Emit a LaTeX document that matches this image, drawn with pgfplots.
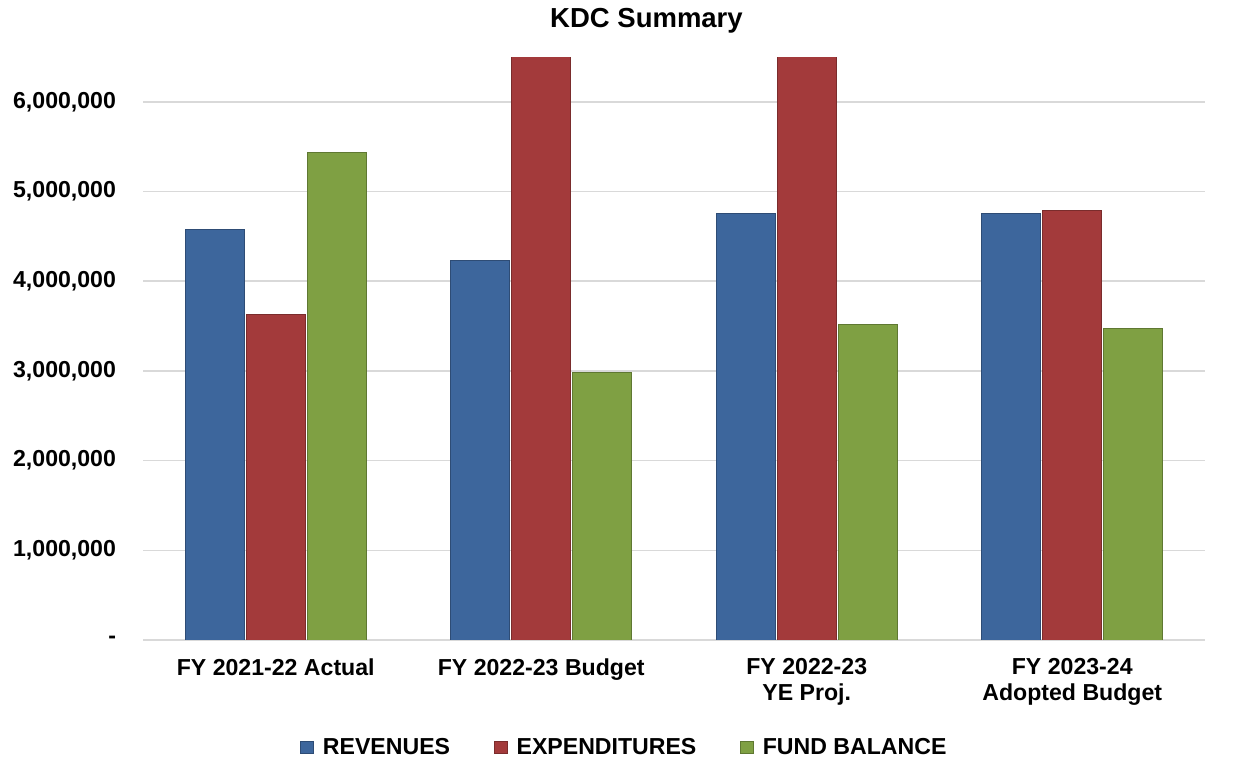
\documentclass[border=0pt]{standalone}
\usepackage{fontspec}
\setmainfont{Liberation Sans}
\usepackage{pgfplots}
\pgfplotsset{compat=1.18}
\definecolor{rev}{HTML}{3D669C}
\definecolor{exp}{HTML}{A33A3B}
\definecolor{fund}{HTML}{7FA043}
\begin{document}
\begin{tikzpicture}
\useasboundingbox (0bp,0bp) rectangle (616.5bp,380.5bp);
\node[font=\bfseries\fontsize{13.8}{16}\selectfont, anchor=base, inner sep=0pt] at (323.25bp,366.5bp) {KDC Summary};
\begin{axis}[
  at={(71.5bp,60.5bp)}, anchor=south west,
  scale only axis, width=531bp, height=291.5bp,
  xmin=-0.5, xmax=3.5, ymin=0, ymax=6500000,
  ybar=1bp, bar width=29.5bp,
  xtick={0,1,2,3},
  xticklabels={{FY 2021-22 Actual},{FY 2022-23 Budget},{FY 2022-23\\YE Proj.},{FY 2023-24\\Adopted Budget}},
  xticklabel style={align=center, font=\bfseries\fontsize{11.6}{13.2}\selectfont, anchor=north, inner sep=0pt, yshift=-9bp},
  ytick={0,1000000,2000000,3000000,4000000,5000000,6000000},
  yticklabels={{-},{1,000,000},{2,000,000},{3,000,000},{4,000,000},{5,000,000},{6,000,000}},
  yticklabel style={font=\bfseries\fontsize{11.6}{13}\selectfont, xshift=-10bp},
  scaled y ticks=false,
  major tick length=0pt,
  axis line style={draw=none},
  ymajorgrids, major grid style={draw=black!15, line width=0.8bp},
  legend style={at={(0.4543,-0.1843)}, anchor=center, draw=none, fill=none,
    legend columns=3, font=\bfseries\fontsize{11.6}{13}\selectfont,
    /tikz/every even column/.append style={column sep=20bp}},
  legend image code/.code={\fill[#1] (0bp,-3bp) rectangle (6.5bp,3bp); \path[draw=none,fill=none] (0bp,0bp) -- (9bp,0bp);},
]
\addplot[fill=rev, draw=rev!75!black, line width=0.5bp] coordinates {(0,4580000) (1,4230000) (2,4750000) (3,4750000)};
\addplot[fill=exp, draw=exp!75!black, line width=0.5bp] coordinates {(0,3630000) (1,7000000) (2,7000000) (3,4790000)};
\addplot[fill=fund, draw=fund!75!black, line width=0.5bp] coordinates {(0,5430000) (1,2980000) (2,3520000) (3,3470000)};
\legend{REVENUES, EXPENDITURES, FUND BALANCE}
\end{axis}
\end{tikzpicture}
\end{document}
